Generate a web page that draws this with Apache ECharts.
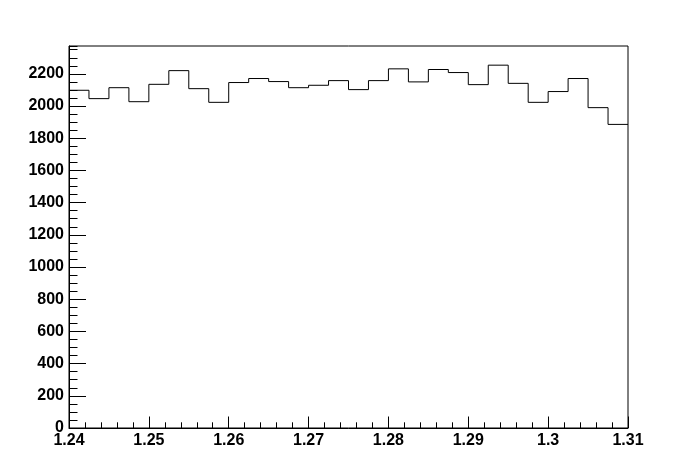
<!DOCTYPE html>
<html>
<head>
<meta charset="utf-8">
<script src="https://cdn.jsdelivr.net/npm/echarts@6/dist/echarts.min.js"></script>
<style>
html,body{margin:0;padding:0;background:#fff;}
#chart{width:698px;height:476px;}
</style>
</head>
<body>
<div id="chart"></div>
<script>
// Histogram bin low edges (28 bins of width 0.0025) and upper edge
const binEdges = [1.24, 1.2425, 1.245, 1.2475, 1.25, 1.2525, 1.255, 1.2575, 1.26, 1.2625,
  1.265, 1.2675, 1.27, 1.2725, 1.275, 1.2775, 1.28, 1.2825, 1.285, 1.2875,
  1.29, 1.2925, 1.295, 1.2975, 1.3, 1.3025, 1.305, 1.3075, 1.31];
// Bin contents
const binCounts = [2098, 2046, 2114, 2027, 2135, 2220, 2108, 2023, 2146, 2171,
  2152, 2114, 2129, 2158, 2102, 2158, 2231, 2150, 2227, 2208,
  2133, 2254, 2141, 2023, 2090, 2171, 1990, 1886];
const xTickLabels = ['1.24','1.25','1.26','1.27','1.28','1.29','1.3','1.31'];
const yTickLabels = ['0','200','400','600','800','1000','1200','1400','1600','1800','2000','2200'];

const stepData = binCounts.map((v, i) => [binEdges[i], v]);
stepData.push([binEdges[binEdges.length - 1], binCounts[binCounts.length - 1]]);

const labelFont = {fontFamily: 'Liberation Sans', fontWeight: 'bold', fontSize: 16, color: '#000'};

const chart = echarts.init(document.getElementById('chart'), null, {renderer: 'canvas'});
chart.setOption({
  backgroundColor: '#fff',
  animation: false,
  grid: {left: 69, right: 70, top: 46, bottom: 48, show: true, borderColor: '#000', borderWidth: 1, backgroundColor: 'transparent'},
  xAxis: {
    type: 'value', min: 1.24, max: 1.31, interval: 0.01,
    axisLine: {show: true, onZero: false, lineStyle: {color: '#000', width: 1}},
    axisTick: {show: true, inside: true, length: 11.5, lineStyle: {color: '#000', width: 1}},
    minorTick: {show: true, splitNumber: 5, length: 5.7, lineStyle: {color: '#000', width: 1}},
    splitLine: {show: false},
    axisLabel: Object.assign({margin: 5, formatter: function (v) {
      const s = (Math.round(v * 100) / 100).toString();
      return xTickLabels.indexOf(s) >= 0 ? s : '';
    }}, labelFont)
  },
  yAxis: [{
    type: 'value', min: 0, max: 2373, interval: 200,
    axisLine: {show: true, onZero: false, lineStyle: {color: '#000', width: 1}},
    axisTick: {show: true, inside: true, length: 17, lineStyle: {color: '#000', width: 1}},
    splitLine: {show: false},
    axisLabel: Object.assign({margin: 5, showMaxLabel: false, padding: [3, 0, 0, 0], formatter: function (v) {
      const s = String(Math.round(v));
      return yTickLabels.indexOf(s) >= 0 ? s : '';
    }}, labelFont)
  }, {
    type: 'value', min: 0, max: 2373, interval: 50, position: 'left',
    axisLine: {show: false},
    axisTick: {show: true, inside: true, length: 8.5, lineStyle: {color: '#000', width: 1}},
    splitLine: {show: false},
    axisLabel: {show: false}
  }],
  series: [{
    type: 'line', step: 'end', data: stepData, xAxisIndex: 0, yAxisIndex: 0,
    symbol: 'none', lineStyle: {color: '#000', width: 1}, silent: true
  }]
});
</script>
</body>
</html>
